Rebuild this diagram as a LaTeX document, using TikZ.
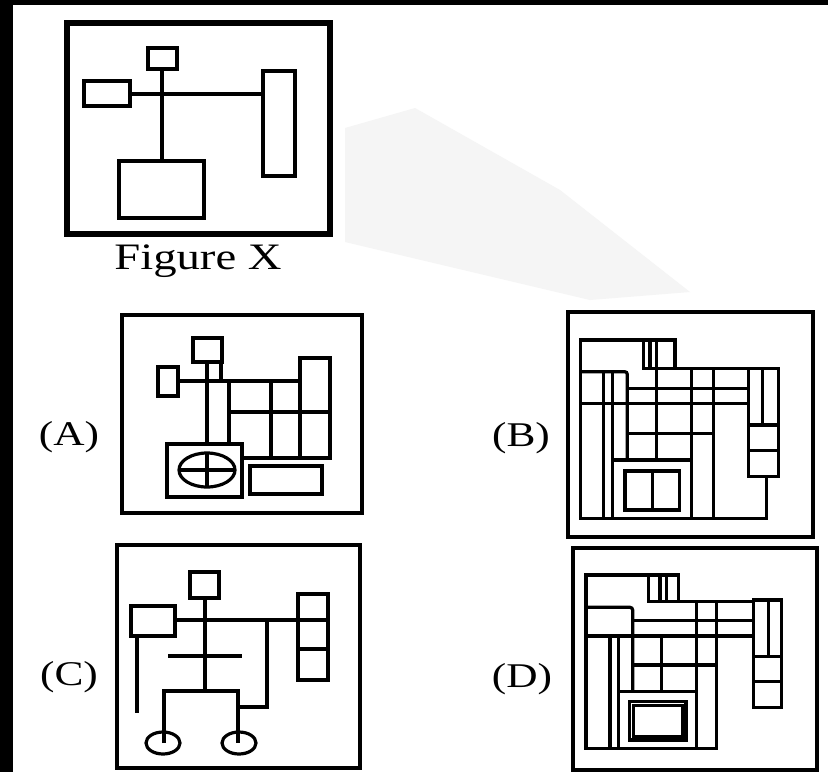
\documentclass[tikz,border=0pt]{standalone}
\usepackage{fontspec}
\setmainfont{Liberation Serif}
\newcommand{\widetext}[1]{\scalebox{1.25}[1]{#1}}
\begin{document}
\begin{tikzpicture}[x=0.75pt,y=-0.75pt,
  frame/.style={line width=3.5pt},
  inner/.style={line width=2.4pt},
  lbl/.style={font=\fontsize{26}{30}\selectfont, inner sep=0pt}]
\useasboundingbox (0,0) rectangle (828,772);
\fill[white] (0,0) rectangle (828,772);
\fill[black] (0,0) rectangle (828,5);
\fill[black] (0,0) rectangle (13,772);
% watermark band
\fill[black!4] (345,128) -- (415,108) -- (560,190) -- (690,292) -- (590,300) -- (345,242) -- cycle;
% Figure X
\draw[line width=4.2pt] (67,23) rectangle (330,234);
\begin{scope}[line width=2.8pt]
\draw (148,48) rectangle (177,69);
\draw (84,81) rectangle (130,106);
\draw (263,71) rectangle (295,176);
\draw (119,161) rectangle (204,218);
\draw (130,94) -- (263,94);
\draw (162,69) -- (162,161);
\end{scope}
\node[lbl, font=\fontsize{28}{34}\selectfont] (fx) at (198,261) {\widetext{Figure X}};
% (A)
\node[lbl] (la) at (69,437) {\widetext{(A)}};
\draw[frame] (122,315) rectangle (362,513);
\begin{scope}[inner]
\draw (193,338) rectangle (222,362);
\draw (158,367) rectangle (178,396);
\draw (178,381) -- (300,381);
\draw (207,362) -- (207,444);
\draw (221,362) -- (221,381);
\draw (229,381) -- (229,444);
\draw (229,412) -- (330,412);
\draw (271,381) -- (271,458);
\draw (300,358) rectangle (330,458);
\draw (242,458) -- (300,458);
\draw (167,444) rectangle (242,497);
\draw (207,470) ellipse [x radius=28, y radius=17];
\draw (179,470) -- (235,470);
\draw (207,453) -- (207,487);
\draw (250,466) rectangle (322,494);
\end{scope}
% (C)
\node[lbl] (lc) at (69,677) {\widetext{(C)}};
\draw[frame] (117,545) rectangle (360,768);
\begin{scope}[inner]
\draw (190,572) rectangle (219,598);
\draw (131,606) rectangle (175,636);
\draw (137,636) -- (137,713);
\draw (175,620) -- (328,620);
\draw (298,594) rectangle (328,680);
\draw (298,649) -- (328,649);
\draw (205,598) -- (205,691);
\draw (168,656) -- (242,656);
\draw (164,743) -- (164,691) -- (238,691) -- (238,743);
\draw (267,620) -- (267,707) -- (238,707);
\draw (163,743) ellipse [x radius=17, y radius=11];
\draw (239,743) ellipse [x radius=17, y radius=11];
\end{scope}
% (B)
\node[lbl] (lb) at (521,438) {\widetext{(B)}};
\draw[frame] (568,312) rectangle (813,537);
\begin{scope}[shift={(540,290)}, scale=0.3333, inner]
\draw (405,150) -- (122,150) -- (122,685) -- (680,685) -- (680,560);
\draw (310,150) rectangle (405,235);
\draw (330,150) -- (330,235);
\draw (350,150) -- (350,510);
\draw (310,235) -- (625,235);
\draw (625,235) rectangle (715,560);
\draw (668,235) -- (668,405);
\draw (625,405) -- (715,405);
\draw (625,482) -- (715,482);
\draw[rounded corners=2pt] (122,245) -- (262,245) -- (262,510);
\draw (190,245) -- (190,685);
\draw (218,245) -- (218,685);
\draw (262,295) -- (625,295);
\draw (122,340) -- (625,340);
\draw (455,235) -- (455,685);
\draw (520,235) -- (520,685);
\draw (262,430) -- (520,430);
\draw (218,510) -- (455,510);
\draw (255,543) rectangle (418,660);
\draw (338,543) -- (338,660);
\end{scope}
% (D)
\node[lbl] (ld) at (522,679) {\widetext{(D)}};
\draw[frame] (573,548) rectangle (817,770);
\begin{scope}[shift={(540,530)}, scale=0.3333, inner]
\draw (415,135) -- (138,135) -- (138,655) -- (530,655) -- (530,215);
\draw (325,135) rectangle (415,215);
\draw (360,135) -- (360,215);
\draw (380,135) -- (380,215);
\draw (325,215) -- (640,215);
\draw (640,210) rectangle (725,532);
\draw (685,210) -- (685,380);
\draw (640,380) -- (725,380);
\draw (640,455) -- (725,455);
\draw[rounded corners=2pt] (138,232) -- (278,232) -- (278,485);
\draw (278,272) -- (640,272);
\draw (138,318) -- (640,318);
\draw (210,318) -- (210,655);
\draw (235,318) -- (235,655);
\draw (365,318) -- (365,485);
\draw (278,405) -- (530,405);
\draw (235,485) -- (470,485);
\draw (470,215) -- (470,655);
\draw (268,515) rectangle (438,630);
\draw (280,527) rectangle (428,620);
\end{scope}
\end{tikzpicture}
\end{document}
